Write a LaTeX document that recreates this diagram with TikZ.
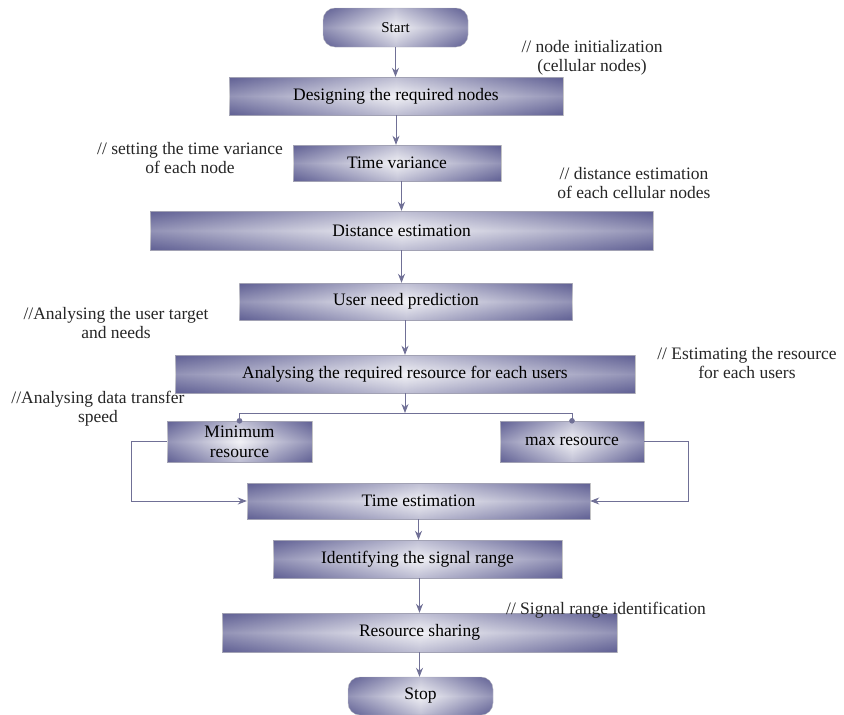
\documentclass[tikz,border=0pt]{standalone}
\usepackage{fontspec}
\setmainfont{Liberation Serif}
\usetikzlibrary{arrows.meta}
\definecolor{boxdark}{RGB}{96,96,148}
\definecolor{boxlight}{RGB}{242,242,246}
\definecolor{wirecol}{RGB}{112,112,150}
\tikzset{
  flowbox/.style={draw=gray!45,thin,left color=boxdark,right color=boxdark,middle color=boxlight,
    postaction={top color=boxdark,bottom color=boxdark,middle color=boxlight,fill opacity=.35},
    inner sep=0pt,align=center,font=\fontsize{17.5}{20}\selectfont},
  terminal/.style={flowbox,rounded corners=12pt},
  note/.style={align=center,inner sep=0pt,text=black!85,font=\fontsize{17.5}{19}\selectfont},
  link/.style={draw=wirecol,line width=.9pt,-{Stealth[length=9pt,width=7pt]}},
  wire/.style={draw=wirecol,line width=.9pt},
  joint/.style={fill=wirecol}
}
\begin{document}
\begin{tikzpicture}[x=1pt,y=-1pt]
  \useasboundingbox (0,0) rectangle (844,715);
  \node[terminal,minimum width=145pt,minimum height=39pt,font=\fontsize{15}{18}\selectfont] (start) at (395.5,27.5) {Start};
  \node[flowbox,minimum width=334pt,minimum height=38pt] (design) at (396,96) {Designing the required nodes};
  \node[flowbox,minimum width=208pt,minimum height=36pt] (tvar) at (397,163) {Time variance};
  \node[flowbox,minimum width=503pt,minimum height=39pt] (dist) at (401.5,230.5) {Distance estimation};
  \node[flowbox,minimum width=333pt,minimum height=37pt] (user) at (406,301.5) {User need prediction};
  \node[flowbox,minimum width=460pt,minimum height=38pt] (analyse) at (405,374) {Analysing the required resource for each users};
  \node[flowbox,minimum width=145pt,minimum height=41pt] (minres) at (239.5,441.5) {Minimum\\resource};
  \node[flowbox,minimum width=144pt,minimum height=41pt] (maxres) at (572,441.5) {max resource};
  \node[flowbox,minimum width=343pt,minimum height=36pt] (timeest) at (418.5,501) {Time estimation};
  \node[flowbox,minimum width=289pt,minimum height=38pt] (ident) at (417.5,559) {Identifying the signal range};
  \node[flowbox,minimum width=395pt,minimum height=39pt] (share) at (419.5,632.5) {Resource sharing};
  \node[terminal,minimum width=145pt,minimum height=38pt] (stop) at (420.5,696) {Stop};
  \coordinate (fork) at (405,413);

  \node[note] (ninit) at (592,58) {// node initialization\\(cellular nodes)};
  \node[note] (nvar) at (190,158) {// setting the time variance\\of each node};
  \node[note] (ndist) at (634,183) {// distance estimation\\of each cellular nodes};
  \node[note] (nuser) at (116,323) {//Analysing the user target\\and needs};
  \node[note] (nres) at (747,363) {// Estimating the resource\\for each users};
  \node[note] (nspeed) at (98,409) {//Analysing data transfer\\speed};
  \node[note] (nsig) at (606,610) {// Signal range identification};

  \draw[link] (start.south) -- (start.south |- design.north);
  \draw[link] (design.south) -- (design.south |- tvar.north);
  \draw[link] (dist.north |- tvar.south) -- (dist.north);
  \draw[link] (dist.south) -- (dist.south |- user.north);
  \draw[link] (analyse.north |- user.south) -- (analyse.north);
  \draw[link] (analyse.south) -- (fork);
  \draw[wire] (minres.north) -- (minres.north |- fork) -- (maxres.north |- fork) -- (maxres.north);
  \fill[joint] (minres.north) circle (2.8); \fill[joint] (maxres.north) circle (2.8);
  \draw[link] (minres.west) -- ++(-35,0) |- (timeest.west);
  \draw[link] (maxres.east) -- ++(44,0) |- (timeest.east);
  \draw[link] (timeest.south) -- (timeest.south |- ident.north);
  \draw[link] (share.north |- ident.south) -- (share.north);
  \draw[link] (share.south) -- (share.south |- stop.north);
\end{tikzpicture}
\end{document}
